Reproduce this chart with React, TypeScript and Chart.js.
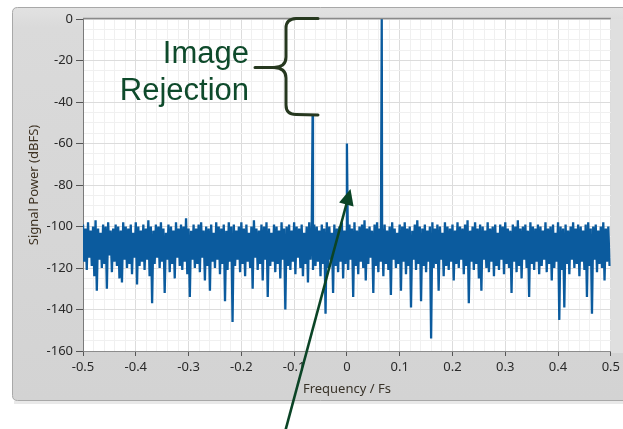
import React, { useEffect, useRef } from "react";
import { Chart, registerables } from "chart.js";
Chart.register(...registerables);

// Upper edge of the noise floor (dBFS), evenly spaced across -0.5..0.5
const noiseTop = [
  -99, -101, -98, -102, -100, -97, -101, -103, -99, -100, -98, -102, -101, -99, -100,
  -102, -98, -100, -101, -99, -103, -98, -100, -102, -99, -101, -97, -100, -102, -99,
  -100, -98, -101, -103, -99, -100, -102, -98, -101, -99, -100, -96, -101, -102, -99,
  -101, -99, -98, -102, -100, -101, -99, -103, -98, -100, -101, -99, -102, -98, -100,
  -99, -102, -100, -98, -101, -99, -103, -100, -97, -101, -102, -99, -100, -98, -101,
  -103, -99, -100, -102, -98, -101, -100, -99, -102, -98, -100, -101, -99, -103, -100,
  -98, -101, -99, -100, -102, -99, -101, -98, -100, -103, -99, -101, -100, -98, -102,
  -100, -99, -101, -98, -102, -100, -99, -97, -101, -100, -102, -99, -98, -101, -100,
  -99, -102, -100, -98, -101, -103, -99, -100, -98, -101, -100, -102, -99, -97, -100,
  -101, -99, -102, -100, -98, -101, -99, -100, -103, -98, -100, -101, -99, -102, -98,
  -100, -101, -99, -97, -102, -100, -98, -101, -99, -100, -102, -98, -101, -100, -99,
  -103, -99, -100, -98, -101, -102, -99, -100, -97, -101, -100, -99, -102, -98, -100,
  -101, -99, -100, -102, -98, -101, -100, -99, -103, -98, -100, -101, -99, -102, -100,
  -98, -101, -99, -100, -102, -99, -98, -101, -100, -99, -102, -100, -98, -101, -100,
];

// Lower edge of the noise floor (dBFS), same spacing, offset by half a bin
const noiseBottom = [
  -117, -121, -115, -119, -124, -131, -116, -120, -118, -130, -114, -122, -117, -119, -125,
  -127, -116, -120, -118, -123, -115, -128, -119, -117, -121, -116, -124, -137, -118, -115,
  -120, -117, -132, -116, -122, -118, -125, -115, -119, -121, -117, -123, -134, -116, -120,
  -118, -122, -115, -126, -119, -131, -117, -120, -116, -123, -118, -136, -121, -117, -146,
  -119, -116, -122, -118, -124, -117, -120, -130, -115, -121, -118, -126, -116, -134, -119,
  -117, -122, -118, -125, -116, -140, -119, -121, -117, -123, -115, -120, -124, -118, -127,
  -116, -121, -119, -117, -124, -118, -142, -120, -116, -132, -119, -122, -117, -125, -118,
  -121, -116, -134, -119, -123, -117, -120, -126, -118, -115, -132, -119, -122, -117, -124,
  -118, -121, -133, -116, -120, -118, -131, -117, -123, -119, -139, -116, -121, -118, -136,
  -119, -122, -117, -154, -120, -118, -131, -116, -124, -119, -121, -117, -126, -118, -120,
  -116, -123, -119, -137, -117, -121, -118, -125, -131, -116, -120, -122, -117, -124, -119,
  -121, -116, -123, -118, -120, -132, -117, -122, -119, -125, -116, -120, -134, -118, -121,
  -117, -123, -119, -116, -122, -118, -126, -120, -117, -145, -121, -139, -118, -123, -116,
  -120, -118, -124, -117, -121, -134, -119, -142, -116, -122, -118, -120, -126, -117, -119,
];

// Tones: image, DC, signal
const toneFreq = [-0.065, 0, 0.066];
const toneLevel = [-46.5, -60, 0];

const xTickValues = [-0.5, -0.4, -0.3, -0.2, -0.1, 0, 0.1, 0.2, 0.3, 0.4, 0.5];
const xTickLabels = ["-0.5", "-0.4", "-0.3", "-0.2", "-0.1", "0", "0.1", "0.2", "0.3", "0.4", "0.5"];
const yTickValues = [0, -20, -40, -60, -80, -100, -120, -140, -160];
const yTickLabels = ["0", "-20", "-40", "-60", "-80", "-100", "-120", "-140", "-160"];

const annotationLines = ["Image", "Rejection"];

function buildPoints() {
  const pts: { x: number; y: number }[] = [];
  const n = noiseTop.length;
  const step = 1 / n;
  for (let i = 0; i < n; i++) {
    pts.push({ x: -0.5 + i * step, y: noiseTop[i] });
    pts.push({ x: -0.5 + (i + 0.5) * step, y: noiseBottom[i] });
  }
  for (let k = 0; k < toneFreq.length; k++) pts.push({ x: toneFreq[k], y: toneLevel[k] });
  pts.sort((a, b) => a.x - b.x);
  return pts;
}

const panelPlugin = {
  id: "panel",
  beforeDraw(chart: any) {
    const { ctx, chartArea } = chart;
    const W = chart.width, H = chart.height;
    ctx.save();
    ctx.fillStyle = "#ffffff";
    ctx.fillRect(0, 0, W, H);
    ctx.fillStyle = "#e9e9e9";
    ctx.fillRect(14, 401, W, 3);
    const x0 = 12.5, y0 = 7.5, x1 = W + 20, y1 = 400.5, r = 5;
    ctx.beginPath();
    ctx.moveTo(x0 + r, y0);
    ctx.lineTo(x1, y0);
    ctx.lineTo(x1, y1);
    ctx.lineTo(x0 + r, y1);
    ctx.quadraticCurveTo(x0, y1, x0, y1 - r);
    ctx.lineTo(x0, y0 + r);
    ctx.quadraticCurveTo(x0, y0, x0 + r, y0);
    ctx.closePath();
    const g = ctx.createLinearGradient(0, y0, 0, y1);
    g.addColorStop(0, "#e2e2e2");
    g.addColorStop(0.05, "#dadada");
    g.addColorStop(1, "#d3d3d3");
    ctx.fillStyle = g;
    ctx.fill();
    ctx.strokeStyle = "#a8a8a8";
    ctx.lineWidth = 1;
    ctx.stroke();
    ctx.fillStyle = "#dfdfdf";
    ctx.fillRect(chartArea.right, chartArea.top, W - chartArea.right, chartArea.bottom - chartArea.top + 2);
    ctx.fillStyle = "#ffffff";
    ctx.fillRect(chartArea.left, chartArea.top, chartArea.right - chartArea.left, chartArea.bottom - chartArea.top);
    ctx.restore();
  },
  afterDraw(chart: any) {
    const { ctx, chartArea } = chart;
    ctx.save();
    ctx.strokeStyle = "#8a8a8a";
    ctx.lineWidth = 1.5;
    ctx.beginPath();
    ctx.moveTo(chartArea.left, chartArea.top - 0.5);
    ctx.lineTo(chartArea.right, chartArea.top - 0.5);
    ctx.stroke();

    ctx.fillStyle = "#0e4a2b";
    ctx.font = '31px "Liberation Sans", Arial, sans-serif';
    ctx.textAlign = "right";
    ctx.textBaseline = "alphabetic";
    ctx.fillText(annotationLines[0], 249, 63);
    ctx.fillText(annotationLines[1], 249, 100);

    ctx.strokeStyle = "#26381f";
    ctx.lineWidth = 3;
    ctx.lineCap = "round";
    ctx.lineJoin = "round";
    ctx.beginPath();
    ctx.moveTo(318, 18.5);
    ctx.lineTo(296, 18.5);
    ctx.quadraticCurveTo(286, 19, 286, 28);
    ctx.lineTo(286, 57);
    ctx.quadraticCurveTo(286, 67, 274, 67.5);
    ctx.lineTo(255, 67.5);
    ctx.moveTo(274, 67.5);
    ctx.quadraticCurveTo(286, 68, 286, 78);
    ctx.lineTo(286, 105);
    ctx.quadraticCurveTo(286, 114.5, 296, 114.5);
    ctx.lineTo(318, 115);
    ctx.stroke();

    const tipX = 350.5, tipY = 189;
    const tailX = 285, tailY = 432;
    const dx = tipX - tailX, dy = tipY - tailY;
    const len = Math.hypot(dx, dy);
    const ux = dx / len, uy = dy / len;
    const headLen = 16, headHalf = 7.5;
    const bx = tipX - ux * headLen, by = tipY - uy * headLen;
    ctx.strokeStyle = "#0b4426";
    ctx.fillStyle = "#0b4426";
    ctx.lineWidth = 2.6;
    ctx.lineCap = "butt";
    ctx.beginPath();
    ctx.moveTo(tailX, tailY);
    ctx.lineTo(bx + ux * 2, by + uy * 2);
    ctx.stroke();
    ctx.beginPath();
    ctx.moveTo(tipX, tipY);
    ctx.lineTo(bx - uy * headHalf, by + ux * headHalf);
    ctx.lineTo(bx + uy * headHalf, by - ux * headHalf);
    ctx.closePath();
    ctx.fill();
    ctx.restore();
  },
};

function isMajorX(v: number) {
  const i = Math.round((v + 0.5) / 0.02);
  return i % 5 === 0;
}
function isMajorY(v: number) {
  return Math.round(v) % 20 === 0;
}

export default function App() {
  const ref = useRef<HTMLCanvasElement | null>(null);
  useEffect(() => {
    if (!ref.current) return;
    const tickFont = { family: '"Noto Sans", "Open Sans", sans-serif', size: 13 };
    const chart = new Chart(ref.current, {
      type: "line",
      data: {
        datasets: [
          {
            data: buildPoints(),
            borderColor: "#0b5b9e",
            borderWidth: 2.3,
            pointRadius: 0,
            tension: 0,
            fill: false,
          },
        ],
      },
      options: {
        animation: false,
        responsive: false,
        events: [],
        layout: { padding: { left: 0, right: 10, top: 19, bottom: 0 } },
        plugins: { legend: { display: false }, tooltip: { enabled: false } },
        scales: {
          x: {
            type: "linear",
            min: -0.5,
            max: 0.5,
            afterFit: (s: any) => { s.height = 78; },
            ticks: {
              stepSize: 0.02,
              autoSkip: false,
              maxRotation: 0,
              padding: 3,
              color: "#2a2a2a",
              font: tickFont,
              callback: (v: any) => {
                const idx = xTickValues.findIndex((t) => Math.abs(t - Number(v)) < 1e-6);
                return idx >= 0 ? xTickLabels[idx] : "";
              },
            },
            grid: {
              color: (c: any) => (isMajorX(c.tick.value) ? "#dcdcdc" : "#f0f0f0"),
              tickColor: (c: any) => (isMajorX(c.tick.value) ? "#555555" : "rgba(0,0,0,0)"),
              tickLength: 5,
              lineWidth: 1,
            },
            border: { display: true, color: "#8c8c8c", width: 1 },
            title: {
              display: true,
              text: "Frequency / Fs",
              color: "#383228",
              font: { family: '"Noto Sans", "Open Sans", sans-serif', size: 13 },
              padding: { top: 0, bottom: 32 },
            },
          },
          y: {
            type: "linear",
            min: -160,
            max: 0,
            afterFit: (s: any) => { s.width = 83; },
            ticks: {
              stepSize: 5,
              autoSkip: false,
              padding: 3,
              color: "#2a2a2a",
              font: tickFont,
              callback: (v: any) => {
                const idx = yTickValues.findIndex((t) => Math.abs(t - Number(v)) < 1e-6);
                return idx >= 0 ? yTickLabels[idx] : "";
              },
            },
            grid: {
              color: (c: any) => (isMajorY(c.tick.value) ? "#dcdcdc" : "#f0f0f0"),
              tickColor: (c: any) => (isMajorY(c.tick.value) ? "#555555" : "rgba(0,0,0,0)"),
              tickLength: 7,
              lineWidth: 1,
            },
            border: { display: true, color: "#7a7a7a", width: 1 },
            title: {
              display: true,
              text: "Signal Power (dBFS)",
              color: "#3e3222",
              font: { family: '"Noto Sans", "Open Sans", sans-serif', size: 13 },
              padding: { top: 26, bottom: 0 },
            },
          },
        },
      },
      plugins: [panelPlugin],
    } as any);
    return () => chart.destroy();
  }, []);
  return (
    <div style={{ position: "fixed", left: 0, top: 0, width: 623, height: 429, background: "#fff" }}>
      <canvas ref={ref} width={623} height={429} style={{ display: "block", width: 623, height: 429 }} />
    </div>
  );
}
